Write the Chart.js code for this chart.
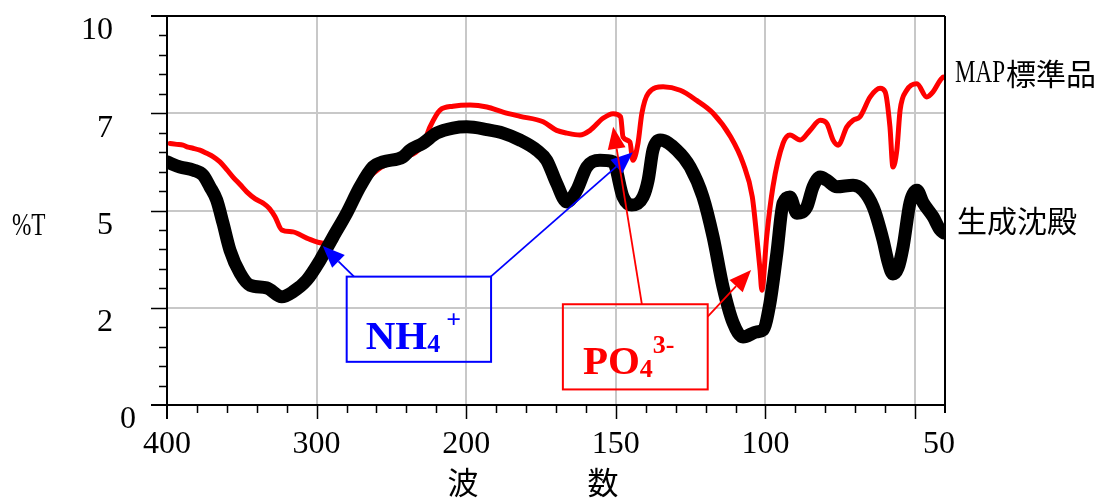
<!DOCTYPE html>
<html><head><meta charset="utf-8">
<script src="https://cdn.jsdelivr.net/npm/chart.js@4.4.0/dist/chart.umd.min.js"></script>
<style>html,body{margin:0;padding:0;background:#fff;}canvas{display:block;}</style>
</head><body>
<canvas id="c" width="1100" height="498"></canvas>
<script>
// ---- data (wavenumber, %T) ----
const precipWn = [400,391.3,382.4,375.9,371.3,366.8,362.6,357.9,351.2,344.5,333.4,323.3,315.8,306.6,297.7,289.0,279.9,271.0,262.3,255.6,242.3,237.6,228.9,219.7,208.8,199.8,193.1,187.7,182.0,176.4,173.1,169.8,166.4,163.1,159.7,155.3,150.9,147.6,144.7,140.9,139.2,137.6,135.2,129.6,125.2,120.9,117.5,114.2,110.8,107.5,102.9,100.8,98.5,96.2,94.1,91.8,89.5,86.2,84.1,81.7,79.5,76.2,70.7,67.4,64.0,60.7,59.0,57.4,55.7,54.0,51.7,49.4,47.3,44.0,41.6,40.3];
const precipT  = [6.25,6.12,6.04,5.91,5.61,5.27,4.68,3.98,3.39,3.08,3.01,2.78,2.91,3.21,3.72,4.32,4.93,5.61,6.12,6.25,6.38,6.55,6.73,6.99,7.12,7.15,7.08,6.99,6.81,6.55,6.29,5.70,5.22,5.52,6.12,6.29,6.25,5.35,5.14,5.35,5.78,6.55,6.81,6.55,6.12,5.35,4.32,3.04,2.11,1.75,1.88,1.93,2.62,3.90,5.19,5.35,4.93,5.09,5.61,5.86,5.78,5.61,5.65,5.52,5.09,4.24,3.67,3.37,3.52,4.07,5.20,5.52,5.20,4.84,4.50,4.42];
const mapWn = [398.0,393.5,389.3,386.0,382.6,378.0,373.5,369.0,364.6,360.0,355.9,351.0,346.7,341.0,335.8,331.5,327.8,323.3,315.8,306.6,295.7,289.0,279.9,271.0,264.3,255.6,242.3,228.9,224.2,217.5,208.8,198.7,193.1,187.7,182.0,174.3,169.8,166.4,162.0,158.6,154.3,150.9,148.4,147.6,145.3,144.3,142.6,141.3,139.2,134.2,128.5,123.0,117.5,111.6,107.5,104.4,102.9,101.8,101.2,99.6,97.5,94.1,91.8,88.4,85.1,81.7,79.5,77.4,75.7,72.8,70.7,68.4,65.0,61.7,60.0,58.4,57.4,56.1,55.0,52.8,49.4,46.1,44.0,41.6,40.6];
const mapT  = [6.72,6.70,6.68,6.63,6.60,6.55,6.47,6.38,6.25,6.05,5.86,5.66,5.48,5.30,5.19,5.05,4.84,4.50,4.45,4.29,4.16,4.32,4.96,5.63,5.88,6.14,6.34,6.70,7.15,7.58,7.68,7.71,7.66,7.53,7.42,7.28,7.06,6.99,6.94,7.06,7.37,7.49,7.41,6.89,6.76,6.29,6.73,7.50,8.01,8.18,8.09,7.83,7.50,6.89,6.22,5.35,4.32,3.47,2.95,4.32,5.61,6.73,6.94,6.81,7.06,7.32,7.24,6.81,6.68,7.15,7.32,7.41,7.92,8.14,8.05,7.15,6.12,6.55,7.58,8.09,8.26,7.92,8.05,8.35,8.43];

const seriesNames = ['MAP標準品', '生成沈殿'];
const xTickWn = [400, 300, 200, 150, 100, 50];
const xTickLabels = ['400', '300', '200', '150', '100', '50'];
const yTickValues = [10, 7.5, 5, 2.5, 0];
const yTickLabels = ['10', '7', '5', '2', '0'];
const xTitleChars = ['波', '数'];
const yTitle = '%T';
const ionLabels = [{main:'NH', sub:'4', sup:'+'}, {main:'PO', sub:'4', sup:'3-'}];

// compressed wavenumber axis: 400-200 at half scale, 200-40 at full scale
function wnToPos(wn){ return wn >= 200 ? (400 - wn) / 2 : 300 - wn; }
const X_MIN_WN = 400, X_MAX_WN = 40;

// annotation geometry in data units (wavenumber, %T)
const annotations = [
  {color:'#0000ff', box:[279.9, 3.30, 191.7, 1.11], label:ionLabels[0], tx:19, ty:72,
   arrows:[[275.0,3.30,295.9,4.09],[191.8,3.30,144.3,6.50]]},
  {color:'#ff0000', box:[167.7, 2.59, 119.3, 0.40], label:ionLabels[1], tx:20, ty:69.5,
   arrows:[[141.3,2.59,150.9,7.15],[119.3,2.27,104.8,3.47]]}
];

const SERIF = '"Liberation Serif", "Times New Roman", serif';
const CJK = '"Noto Sans CJK JP", "Noto Sans CJK SC", sans-serif';

function condensed(ctx, text, x, y, font, sx, align){
  ctx.save();
  ctx.font = font;
  const w = ctx.measureText(text).width * sx;
  let x0 = x;
  if (align === 'right') x0 = x - w; else if (align === 'center') x0 = x - w/2;
  ctx.translate(x0, y);
  ctx.scale(sx, 1);
  ctx.textAlign = 'left';
  ctx.fillText(text, 0, 0);
  ctx.restore();
  return w;
}

function arrow(ctx, x1, y1, x2, y2, color, lw, hl, hw){
  const a = Math.atan2(y2 - y1, x2 - x1);
  const bx = x2 - hl * Math.cos(a), by = y2 - hl * Math.sin(a);
  ctx.strokeStyle = color; ctx.fillStyle = color; ctx.lineWidth = lw;
  ctx.beginPath(); ctx.moveTo(x1, y1); ctx.lineTo(bx, by); ctx.stroke();
  ctx.beginPath();
  ctx.moveTo(x2, y2);
  ctx.lineTo(bx + hw * Math.sin(a), by - hw * Math.cos(a));
  ctx.lineTo(bx - hw * Math.sin(a), by + hw * Math.cos(a));
  ctx.closePath(); ctx.fill();
}

const framePlugin = {
  id: 'frame',
  afterDatasetsDraw(chart){
    const ctx = chart.ctx, a = chart.chartArea;
    const xs = chart.scales.x, ys = chart.scales.y;
    ctx.save();
    // frame
    ctx.strokeStyle = '#000'; ctx.lineWidth = 2;
    ctx.beginPath();
    ctx.moveTo(a.left - 16, a.top); ctx.lineTo(a.right, a.top);
    ctx.moveTo(a.left - 16, a.bottom); ctx.lineTo(a.right, a.bottom);
    ctx.moveTo(a.left, a.top); ctx.lineTo(a.left, a.bottom + 14);
    ctx.moveTo(a.right, a.top); ctx.lineTo(a.right, a.bottom + 8);
    ctx.stroke();
    // y ticks
    ctx.lineWidth = 1.5;
    ctx.beginPath();
    for (let v = 0.5; v < 10; v += 0.5){
      const py = Math.round(ys.getPixelForValue(v)) + 0.5;
      const len = (Math.abs(v % 2.5) < 1e-6) ? 16 : 8;
      ctx.moveTo(a.left - len, py); ctx.lineTo(a.left, py);
    }
    // x ticks
    const maxPos = wnToPos(X_MAX_WN);
    for (let p = 10; p < maxPos; p += 10){
      const px = Math.round(xs.getPixelForValue(p)) + 0.5;
      const len = (p % 50 === 0) ? 14 : 8;
      ctx.moveTo(px, a.bottom); ctx.lineTo(px, a.bottom + len);
    }
    ctx.stroke();
    // y tick labels
    ctx.fillStyle = '#000';
    ctx.font = '32px ' + SERIF;
    ctx.textBaseline = 'middle';
    yTickValues.forEach((v, i) => {
      const py = ys.getPixelForValue(v) + 15;
      const dx = (v === 0) ? 23 : 0;
      ctx.textAlign = 'right';
      ctx.fillText(yTickLabels[i], a.left - 54 + dx, py);
    });
    // x tick labels
    ctx.textAlign = 'center';
    xTickWn.forEach((w, i) => {
      let px = xs.getPixelForValue(wnToPos(w));
      if (i === xTickWn.length - 1) px = a.right - 6;
      ctx.fillText(xTickLabels[i], px, a.bottom + 40);
    });
    // axis titles
    ctx.font = '31px ' + CJK;
    ctx.fillText(xTitleChars[0], 463, a.bottom + 77);
    ctx.fillText(xTitleChars[1], 603, a.bottom + 77);
    condensed(ctx, yTitle, 12, ys.getPixelForValue(5) + 16, '31px ' + SERIF, 0.75, 'left');
    // series labels at right
    const lx = a.right + 10;
    let w = condensed(ctx, 'MAP', lx, ys.getPixelForValue(8.53), '32px ' + SERIF, 0.72, 'left');
    ctx.font = '30px ' + CJK; ctx.textAlign = 'left';
    ctx.fillText(seriesNames[0].replace('MAP', ''), lx + w + 1, ys.getPixelForValue(8.53));
    ctx.fillText(seriesNames[1], lx + 2, ys.getPixelForValue(4.75));
    // annotations
    annotations.forEach(an => {
      const x1 = xs.getPixelForValue(wnToPos(an.box[0])), y1 = ys.getPixelForValue(an.box[1]);
      const x2 = xs.getPixelForValue(wnToPos(an.box[2])), y2 = ys.getPixelForValue(an.box[3]);
      ctx.strokeStyle = an.color; ctx.lineWidth = 2;
      ctx.strokeRect(x1, y1, x2 - x1, y2 - y1);
      an.arrows.forEach(ar => {
        arrow(ctx, xs.getPixelForValue(wnToPos(ar[0])), ys.getPixelForValue(ar[1]),
                   xs.getPixelForValue(wnToPos(ar[2])), ys.getPixelForValue(ar[3]), an.color, 1.8, 22, 9);
      });
      ctx.fillStyle = an.color;
      ctx.textBaseline = 'alphabetic'; ctx.textAlign = 'left';
      const tx = x1 + an.tx, ty = y1 + an.ty;
      ctx.font = 'bold 41px ' + SERIF;
      ctx.fillText(an.label.main, tx, ty);
      const mw = ctx.measureText(an.label.main).width;
      ctx.font = 'bold 26px ' + SERIF;
      ctx.fillText(an.label.sub, tx + mw, ty + 3);
      const sw = ctx.measureText(an.label.sub).width;
      ctx.fillText(an.label.sup, tx + mw + sw + (an.label.sup === '+' ? 6 : 0), ty - 21);
    });
    ctx.restore();
  }
};

Chart.defaults.font.family = SERIF;
new Chart(document.getElementById('c').getContext('2d'), {
  type: 'line',
  data: {
    datasets: [
      {label: seriesNames[1], data: precipWn.map((w, i) => ({x: wnToPos(w), y: precipT[i]})),
       borderColor: '#000000', borderWidth: 13, pointRadius: 0, cubicInterpolationMode: 'monotone',
       borderCapStyle: 'round', borderJoinStyle: 'round', order: 0},
      {label: seriesNames[0], data: mapWn.map((w, i) => ({x: wnToPos(w), y: mapT[i]})),
       borderColor: '#ff0000', borderWidth: 5, pointRadius: 0, cubicInterpolationMode: 'monotone',
       borderCapStyle: 'round', borderJoinStyle: 'round', order: 1}
    ]
  },
  options: {
    responsive: false, animation: false, devicePixelRatio: 1,
    layout: {padding: {left: 167, right: 155, top: 16, bottom: 93}},
    plugins: {legend: {display: false}, tooltip: {enabled: false}},
    scales: {
      x: {type: 'linear', min: wnToPos(X_MIN_WN), max: wnToPos(X_MAX_WN),
          afterBuildTicks: s => { s.ticks = xTickWn.slice(1).map(w => ({value: wnToPos(w)})); },
          afterFit: s => { s.height = 0; },
          ticks: {display: false}, border: {display: false},
          grid: {color: '#c8c8c8', lineWidth: 2, drawTicks: false}},
      y: {type: 'linear', min: 0, max: 10,
          afterBuildTicks: s => { s.ticks = [2.5, 5, 7.5].map(v => ({value: v})); },
          afterFit: s => { s.width = 0; },
          ticks: {display: false}, border: {display: false},
          grid: {color: '#c8c8c8', lineWidth: 2, drawTicks: false}}
    }
  },
  plugins: [framePlugin]
});
</script>
</body></html>
